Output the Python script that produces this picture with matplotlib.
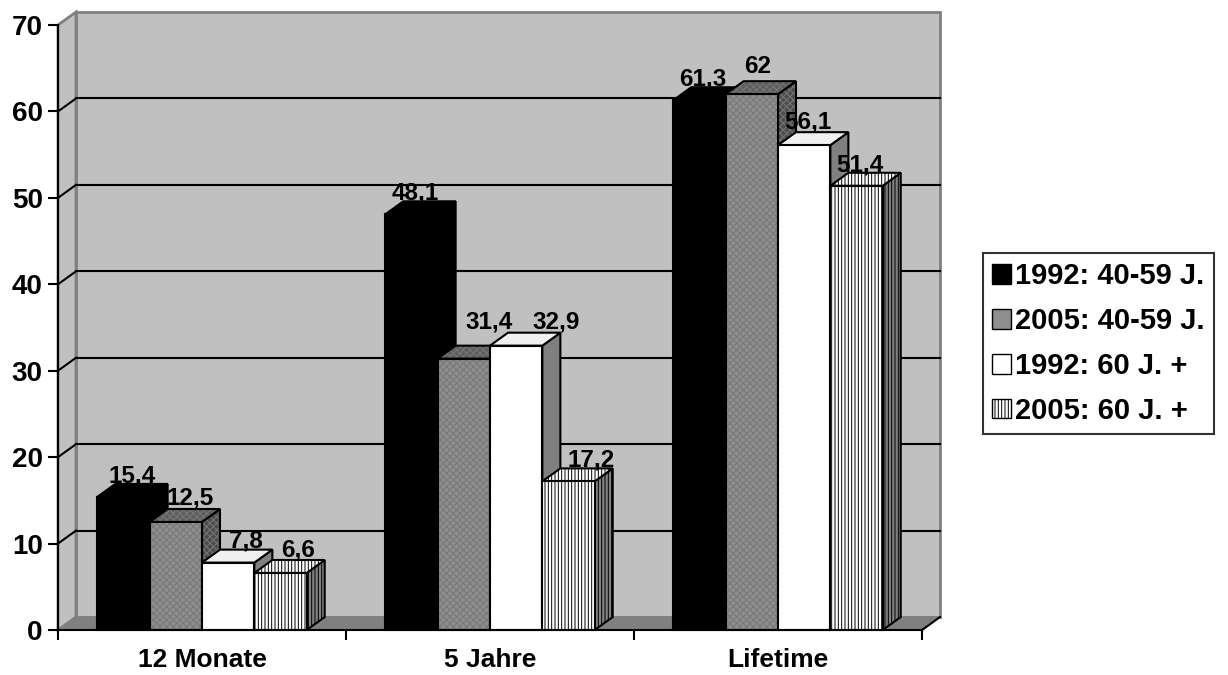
import matplotlib
matplotlib.use("Agg")
import matplotlib.pyplot as plt
from matplotlib.patches import Polygon, Rectangle
from matplotlib.lines import Line2D

# ---- data -------------------------------------------------------------
categories = ["12 Monate", "5 Jahre", "Lifetime"]
series_names = ["1992: 40-59 J.", "2005: 40-59 J.", "1992: 60 J. +", "2005: 60 J. +"]
v_1992_40_59 = [15.4, 48.1, 61.3]
v_2005_40_59 = [12.5, 31.4, 62.0]
v_1992_60 = [7.8, 32.9, 56.1]
v_2005_60 = [6.6, 17.2, 51.4]
series_values = [v_1992_40_59, v_2005_40_59, v_1992_60, v_2005_60]
y_ticks = [0, 10, 20, 30, 40, 50, 60, 70]

# ---- styling ----------------------------------------------------------
FONT = "Liberation Sans"
plt.rcParams["font.family"] = [FONT, "DejaVu Sans"]
plt.rcParams["font.weight"] = "bold"
plt.rcParams["hatch.linewidth"] = 0.7

WALL = "#c0c0c0"
WALL_EDGE = "#808080"
FLOOR = "#808080"

# face colours per series: (front, top, side, hatch, hatch colour)
STYLES = [
    ("#000000", "#000000", "#000000", None, None),
    ("#8e8e8e", "#5e5e5e", "#4c4c4c", "xxxxx", "#777777"),
    ("#ffffff", "#f0f0f0", "#808080", None, None),
    ("#ffffff", "#ffffff", "#808080", "|||||", "#000000"),
]

# pseudo-3D depth of bars and walls (in data units)
DX = 0.0625
DY = 1.5
n_series = len(series_values)
W = 1.0 / (n_series + 1.5)   # 150 % gap width
PX = 1.0 / 288               # one pixel in x data units
PY = 70.0 / 605              # one pixel in y data units

# nudge of value labels in pixels (dx, dy) per category / series,
# keeps neighbouring labels clear of taller bars and of each other
LABEL_NUDGE = [
    [(9, 1), (14, 5), (18, 2), (18, 3)],
    [(4, 2), (25, 17), (40, 4), (23, 2)],
    [(3, 2), (6, 8), (4, 4), (3, 1)],
]

fig = plt.figure(figsize=(12.28, 6.75), dpi=100)
ax = fig.add_axes([58 / 1228, 45 / 675, 864 / 1228, 605 / 675])
ax.set_xlim(-0.5, len(categories) - 0.5)
ax.set_ylim(0, 70)
ax.patch.set_visible(False)

x0, x1 = -0.5, len(categories) - 0.5
ytop = y_ticks[-1]

# back wall, side wall, floor
ax.add_patch(Rectangle((x0 + DX, DY), x1 - x0, ytop, facecolor=WALL,
                       edgecolor=WALL_EDGE, lw=2, zorder=0.5, clip_on=False))
ax.add_patch(Polygon([(x0, 0), (x0, ytop), (x0 + DX, ytop + DY), (x0 + DX, DY)],
                     closed=True, facecolor=WALL, edgecolor=WALL_EDGE, lw=2,
                     zorder=0.6, clip_on=False))
ax.add_patch(Polygon([(x0, 0), (x1, 0), (x1 + DX, DY), (x0 + DX, DY)],
                     closed=True, facecolor=FLOOR, edgecolor=FLOOR, lw=1,
                     zorder=0.6, clip_on=False))

# gridlines on the back wall plus the connecting diagonals at the axis
for t in y_ticks[1:-1]:
    ax.add_line(Line2D([x0 + DX, x1 + DX], [t + DY, t + DY], color="black",
                       lw=1.5, zorder=0.8, clip_on=False))
    ax.add_line(Line2D([x0, x0 + DX], [t, t + DY], color="black",
                       lw=1.5, zorder=0.8, clip_on=False))
ax.add_line(Line2D([x1, x1 + DX], [0, DY], color="black", lw=1.5,
                   zorder=3, clip_on=False))


def face(pts, fc, hatch, hcolor, z):
    if hatch:
        ax.add_patch(Polygon(pts, closed=True, facecolor=fc, edgecolor=hcolor,
                             hatch=hatch, lw=0, zorder=z, clip_on=False))
        ax.add_patch(Polygon(pts, closed=True, fill=False, edgecolor="black",
                             lw=1.5, zorder=z, clip_on=False, joinstyle="miter"))
    else:
        ax.add_patch(Polygon(pts, closed=True, facecolor=fc, edgecolor="black",
                             lw=1.5, zorder=z, clip_on=False, joinstyle="miter"))


z = 1.0
for ci, cat in enumerate(categories):
    for si, vals in enumerate(series_values):
        h = vals[ci]
        front_c, top_c, side_c, hatch, hcol = STYLES[si]
        left = ci - n_series * W / 2 + si * W
        right = left + W
        side = [(right, 0), (right + DX, DY), (right + DX, h + DY), (right, h)]
        top = [(left, h), (right, h), (right + DX, h + DY), (left + DX, h + DY)]
        front = [(left, 0), (right, 0), (right, h), (left, h)]
        face(side, side_c, hatch, hcol, z)
        face(top, top_c, hatch, hcol, z + 0.01)
        face(front, front_c, hatch, hcol, z + 0.02)
        z += 0.1
        label = f"{h:g}".replace(".", ",")
        ndx, ndy = LABEL_NUDGE[ci][si]
        ax.text(left + W / 2 + ndx * PX, h + DY + ndy * PY, label,
                ha="center", va="baseline", fontsize=17.5, fontweight="bold",
                zorder=10)

# axes, ticks and labels
for s in ("top", "right"):
    ax.spines[s].set_visible(False)
for s in ("left", "bottom"):
    ax.spines[s].set_linewidth(1.5)
    ax.spines[s].set_zorder(5)
ax.set_yticks(y_ticks)
ax.set_yticklabels([str(t) for t in y_ticks], fontsize=20, fontweight="bold")
ax.tick_params(axis="y", direction="out", length=7, width=1.5, pad=4)
ax.set_xticks(range(len(categories)))
ax.set_xticklabels(categories, fontsize=19, fontweight="bold")
ax.tick_params(axis="x", which="major", length=0, pad=13)
ax.set_xticks([i - 0.5 for i in range(len(categories) + 1)], minor=True)
ax.tick_params(axis="x", which="minor", direction="out", length=7, width=1.5)

# legend
handles = [
    Rectangle((0, 0), 1, 1, facecolor="black", edgecolor="black", lw=1),
    Rectangle((0, 0), 1, 1, facecolor="#8e8e8e", edgecolor="black", lw=1),
    Rectangle((0, 0), 1, 1, facecolor="white", edgecolor="black", lw=1),
    Rectangle((0, 0), 1, 1, facecolor="white", edgecolor="black", lw=1, hatch="|||||"),
]
leg = fig.legend(handles, series_names, loc="upper left",
                 bbox_to_anchor=(983 / 1228, 1 - 253 / 675), borderaxespad=0,
                 prop={"family": FONT, "weight": "bold", "size": 21},
                 handlelength=0.64, handleheight=0.64, handletextpad=0.15,
                 labelspacing=0.58, borderpad=0.32, fancybox=False,
                 frameon=True, edgecolor="black")
leg.get_frame().set_linewidth(1.5)

fig.savefig("out.png", dpi=100)
